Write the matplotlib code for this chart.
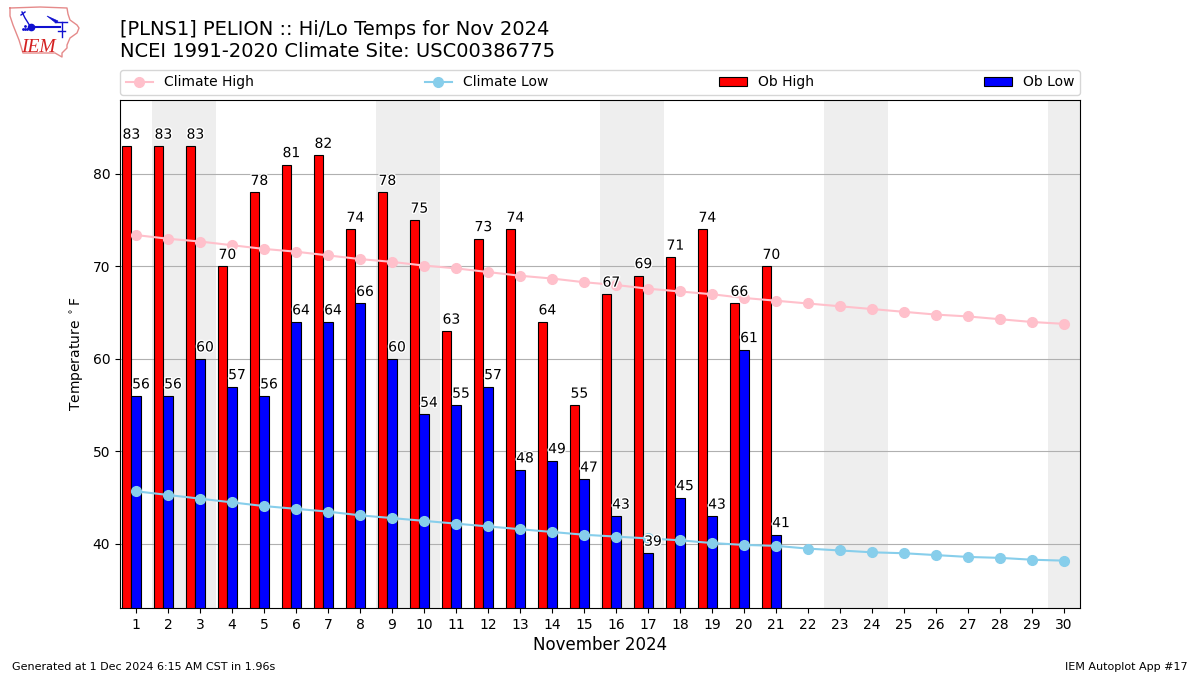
import numpy as np
import matplotlib
matplotlib.use("Agg")
import matplotlib.pyplot as plt
import matplotlib.patheffects as pe

days = list(range(1, 31))
ob_days = list(range(1, 22))
ob_high = [83, 83, 83, 70, 78, 81, 82, 74, 78, 75, 63, 73, 74, 64, 55, 67, 69, 71, 74, 66, 70]
ob_low = [56, 56, 60, 57, 56, 64, 64, 66, 60, 54, 55, 57, 48, 49, 47, 43, 39, 45, 43, 61, 41]
climate_high = [73.4, 73.0, 72.7, 72.3, 71.9, 71.6, 71.2, 70.8, 70.5, 70.1,
                69.8, 69.4, 69.0, 68.7, 68.3, 68.0, 67.6, 67.3, 67.0, 66.6,
                66.3, 66.0, 65.7, 65.4, 65.1, 64.8, 64.6, 64.3, 64.0, 63.8]
climate_low = [45.7, 45.3, 44.9, 44.5, 44.1, 43.8, 43.5, 43.1, 42.8, 42.5,
               42.2, 41.9, 41.6, 41.3, 41.0, 40.8, 40.6, 40.4, 40.1, 39.9,
               39.8, 39.5, 39.3, 39.1, 39.0, 38.8, 38.6, 38.5, 38.3, 38.2]
weekends = [(1.5, 3.5), (8.5, 10.5), (15.5, 17.5), (22.5, 24.5), (29.5, 30.5)]

# logo outline, in logo pixels
iowa_x = [10, 40, 67, 68, 70, 77, 79, 77, 70, 67, 67, 62, 62, 55, 23, 19, 13, 10, 10]
iowa_y = [8, 7, 8, 14, 20, 25, 28, 33, 38, 45, 48, 53, 57, 53, 53, 40, 25, 16, 8]

fig = plt.figure(figsize=(12, 6.75), dpi=100)
ax = fig.add_axes([120 / 1200, 1 - 608 / 675, 960 / 1200, 508 / 675])

for start, end in weekends:
    ax.axvspan(start, end, color="#eeeeee", lw=0, zorder=0)
ax.grid(axis="y", color="#b0b0b0", lw=0.8, zorder=1)
ax.set_axisbelow(True)

x = np.array(ob_days)
width = 0.3
ax.bar(x - 0.45, ob_high, width, align="edge", color="red", edgecolor="black", lw=0.8,
       label="Ob High", zorder=2)
ax.bar(x - 0.15, ob_low, width, align="edge", color="blue", edgecolor="black", lw=0.8,
       label="Ob Low", zorder=2)
ax.plot(days, climate_high, "-o", color="pink", lw=1.5, ms=7, label="Climate High", zorder=3)
ax.plot(days, climate_low, "-o", color="skyblue", lw=1.5, ms=7, label="Climate Low", zorder=3)

halo = [pe.withStroke(linewidth=2, foreground="white")]
for d, hi, lo in zip(ob_days, ob_high, ob_low):
    ax.text(d - 0.42, hi + 0.5, str(hi), fontsize=10, ha="left", va="bottom", zorder=4, path_effects=halo)
    ax.text(d - 0.12, lo + 0.5, str(lo), fontsize=10, ha="left", va="bottom", zorder=4, path_effects=halo)

ax.set_xlim(0.5, 30.5)
ax.set_ylim(33.08, 88)
ax.set_xticks(days)
ax.set_yticks([40, 50, 60, 70, 80])
ax.set_xlabel("November 2024", fontsize=12, labelpad=3)
ax.set_ylabel(r"Temperature $^\circ$F", fontsize=10)
ax.yaxis.labelpad = 5

handles, labels = ax.get_legend_handles_labels()
order = [labels.index(n) for n in ["Climate High", "Climate Low", "Ob High", "Ob Low"]]
ax.legend([handles[i] for i in order], [labels[i] for i in order], ncol=4, mode="expand",
          loc="lower left", bbox_to_anchor=(0, 1.01, 1, 0.05), borderaxespad=0, fontsize=10)

fig.text(120 / 1200, 1 - 35 / 675, "[PLNS1] PELION :: Hi/Lo Temps for Nov 2024", fontsize=14, va="baseline")
fig.text(120 / 1200, 1 - 57 / 675, "NCEI 1991-2020 Climate Site: USC00386775", fontsize=14, va="baseline")
fig.text(12 / 1200, 1 - 670 / 675, "Generated at 1 Dec 2024 6:15 AM CST in 1.96s", fontsize=8, va="baseline")
fig.text(1188 / 1200, 1 - 670 / 675, "IEM Autoplot App #17", fontsize=8, ha="right", va="baseline")

# logo, drawn by hand in pixel coordinates
logo = fig.add_axes([0, 1 - 64 / 675, 90 / 1200, 64 / 675])
logo.set_xlim(0, 90)
logo.set_ylim(64, 0)
logo.axis("off")
logo.plot(iowa_x, iowa_y, color="#e58a8a", lw=1)
logo.plot([30, 60], [26.5, 26.5], color="#1010d0", lw=1.5)
logo.plot([22, 25, 30], [12, 18, 26], color="#1010d0", lw=1)
logo.plot([21, 25], [15, 12], color="#1010d0", lw=1)
logo.fill([47, 58, 56], [16, 21, 23], color="#1010d0", lw=0.5)
logo.plot([55, 67], [21.5, 21.5], color="#1010d0", lw=1)
logo.plot([61.5, 61.5], [22, 37], color="#1010d0", lw=1)
logo.plot([58, 65], [31, 31], color="#1010d0", lw=1)
logo.plot([31], [26.5], "o", color="#1010d0", ms=4.5)
logo.plot([23, 25, 27, 25], [29, 29, 29, 26], ".", color="#1010d0", ms=2)
logo.text(21, 52, "IEM", fontsize=14, color="#d42020", style="italic", family="Liberation Serif")

fig.savefig("out.png", dpi=100)
